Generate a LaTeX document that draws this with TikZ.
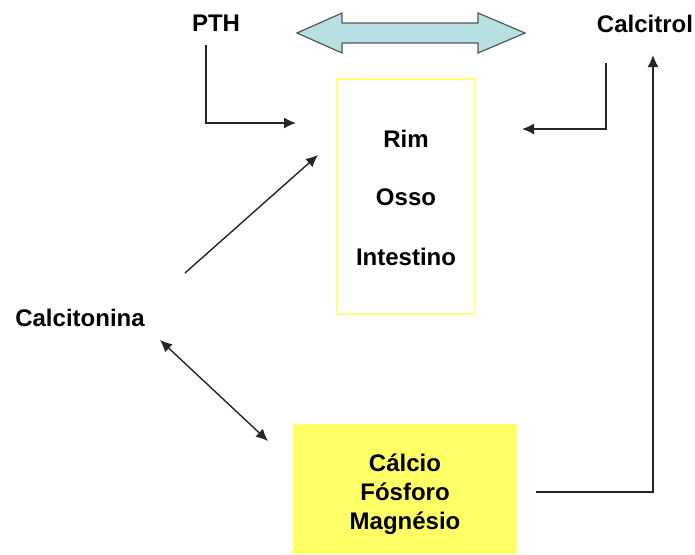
\documentclass[tikz,border=0pt]{standalone}
\usepackage{fontspec}
\setmainfont{Liberation Sans}
\usepackage{tikz}
\usetikzlibrary{positioning,arrows.meta}
\definecolor{ionyellow}{RGB}{255,255,102}
\definecolor{organedge}{RGB}{255,255,128}
\definecolor{balancefill}{RGB}{184,223,225}
\definecolor{balanceedge}{RGB}{80,90,90}
\tikzset{
  line/.style={-{Latex[length=12pt,width=11pt]}, line width=1.4pt, draw=black!85},
  twoline/.style={line, {Latex[length=12pt,width=11pt]}-{Latex[length=12pt,width=11pt]}},
  label/.style={font=\bfseries\fontsize{24}{28}\selectfont, inner sep=0pt, text height=17pt, text depth=0pt},
  organbox/.style={draw=organedge, line width=1.5pt, fill=white, minimum width=138pt, minimum height=235pt, inner sep=0pt},
  ionbox/.style={fill=ionyellow, minimum width=224pt, minimum height=130pt, inner sep=0pt},
  balance/.style={draw=balanceedge, line width=1.2pt, fill=balancefill}
}

\begin{document}
\begin{tikzpicture}[x=1pt, y=-1pt]
  \useasboundingbox (0,0) rectangle (695,554);
  % boxes
  \node[organbox] (organs) at (406,196.5) {};
  \node[ionbox] (ions) at (405,489) {};
  % labels
  \node[label] (pth) at (216,23) {PTH};
  \node[label] (calcitrol) at (645,24) {Calcitrol};
  \node[label] (calcitonina) at (80,318) {Calcitonina};
  \node[label] (rim) at (406,139) {Rim};
  \node[label] (osso) at (406,197) {Osso};
  \node[label] (intestino) at (406,257) {Intestino};
  \node[label] (calcio) at (405,463) {Cálcio};
  \node[label] (fosforo) at (405,492) {Fósforo};
  \node[label] (magnesio) at (405,521) {Magnésio};
  % free ends
  \coordinate (pthout) at (206,45);
  \coordinate (pthin) at (296,123);
  \coordinate (calcitrolout) at (606,63);
  \coordinate (calcitrolin) at (522,129);
  \coordinate (ionsout) at (536,492);
  \coordinate (calcitrolup) at (653,55);
  \coordinate (tonout) at (185,273);
  \coordinate (tonin) at (318,155);
  \coordinate (tonlow) at (160,340);
  \coordinate (ionsin) at (268,441);
  % balance arrow
  \draw[balance] (297,33) -- (342,13) -- (342,23) -- (478,23) -- (478,13) -- (525,33)
    -- (478,53) -- (478,43) -- (342,43) -- (342,53) -- cycle;
  % connectors
  \draw[line] (pthout) |- (pthin);
  \draw[line] (calcitrolout) |- (calcitrolin);
  \draw[line] (ionsout) -| (calcitrolup);
  \draw[line] (tonout) -- (tonin);
  \draw[twoline] (tonlow) -- (ionsin);
\end{tikzpicture}
\end{document}
